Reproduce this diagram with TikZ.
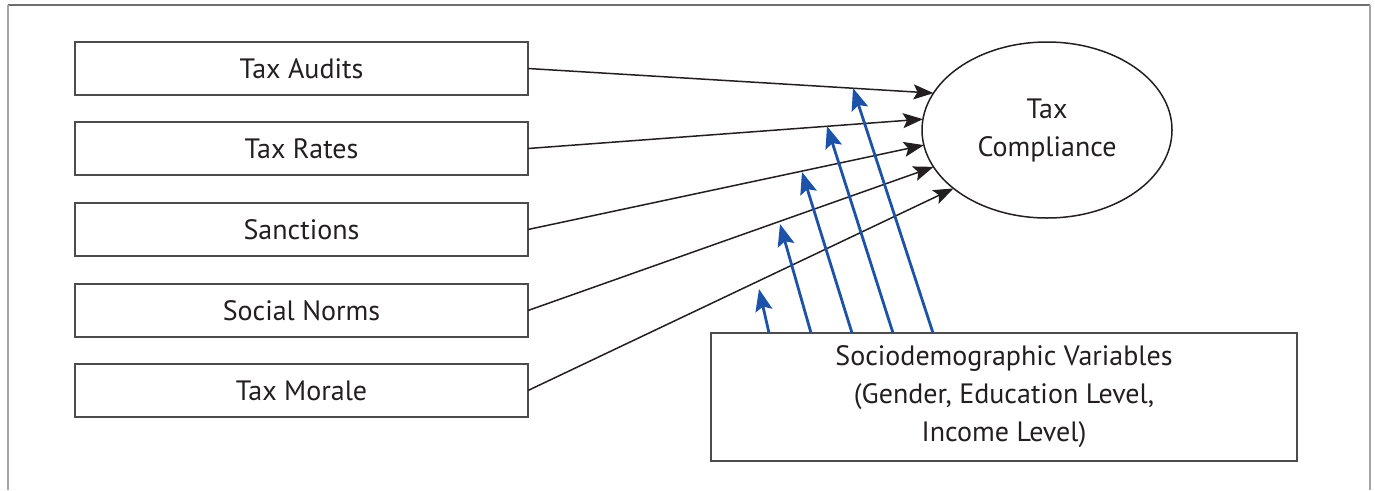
\documentclass[tikz,border=0pt]{standalone}
\usepackage{fontspec}
\setmainfont{PT Sans}
\usetikzlibrary{arrows.meta,shapes.geometric,calc}
\definecolor{linkblue}{RGB}{28,82,168}
\definecolor{txt}{RGB}{35,31,32}
\definecolor{frameg}{RGB}{110,110,110}
\definecolor{sideg}{RGB}{165,165,165}
\begin{document}
\begin{tikzpicture}[x=1pt,y=-1pt,
  every node/.style={font=\fontsize{28}{38}\selectfont, text=txt},
  factor/.style={draw=black!70, line width=1.4pt, minimum width=453pt, minimum height=53pt, inner sep=0pt, outer sep=0pt},
  outcome/.style={ellipse, draw=txt, line width=1.5pt, minimum width=250pt, minimum height=176pt, inner sep=0pt, outer sep=0pt, align=center},
  socbox/.style={draw=black!70, line width=1.4pt, minimum width=586pt, minimum height=128pt, inner sep=0pt, outer sep=0pt, align=center},
  blackarrow/.style={draw=txt, line width=1.5pt, -{Stealth[length=20pt,width=15pt,inset=4pt]}},
  bluearrow/.style={draw=linkblue, line width=2.8pt, -{Stealth[length=22pt,width=17pt,inset=4pt]}}
]
\useasboundingbox (0,0) rectangle (1375,490);
% frame
\draw[frameg, line width=2pt] (8,5) -- (1370,5);
\draw[sideg, line width=1.5pt] (8,5) -- (8,490);
\draw[sideg, line width=1.5pt] (1370,5) -- (1370,490);

% factor boxes
\node[factor] (a1) at (301.5,68.5) {Tax Audits};
\node[factor] (a2) at (301.5,148.5) {Tax Rates};
\node[factor] (a3) at (301.5,229.5) {Sanctions};
\node[factor] (a4) at (301.5,310.5) {Social Norms};
\node[factor] (a5) at (301.5,390.5) {Tax Morale};

% outcome
\node[outcome] (tc) at (1047,130) {Tax\\Compliance};

% sociodemographic box
\node[socbox] (soc) at (1004,397) {Sociodemographic Variables\\(Gender, Education Level,\\Income Level)};

% black arrows
\draw[blackarrow] (a1.east) -- (tc.162);
\draw[blackarrow] (a2.east) -- (tc.175);
\draw[blackarrow] (a3.east) -- (tc.187);
\draw[blackarrow] (a4.east) -- (tc.198);
\draw[blackarrow] (a5.east) -- (tc.212);

% blue arrows (moderating)
\coordinate (b1) at (759,289);
\coordinate (b2) at (780,224);
\coordinate (b3) at (802,172);
\coordinate (b4) at (827,126);
\coordinate (b5) at (853,88);
\draw[bluearrow] ($(soc.north west)+(58,0)$) -- (b1);
\draw[bluearrow] ($(soc.north west)+(100,0)$) -- (b2);
\draw[bluearrow] ($(soc.north west)+(141,0)$) -- (b3);
\draw[bluearrow] ($(soc.north west)+(182,0)$) -- (b4);
\draw[bluearrow] ($(soc.north west)+(222,0)$) -- (b5);
\end{tikzpicture}
\end{document}
